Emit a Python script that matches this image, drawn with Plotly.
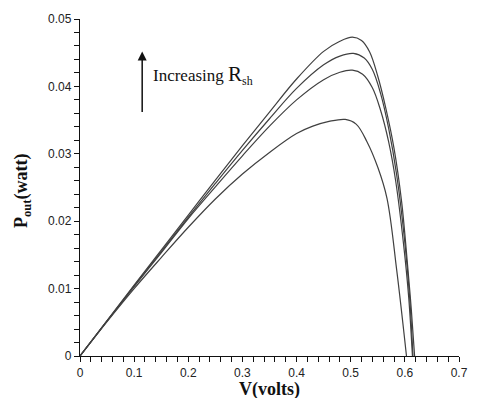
import plotly.graph_objects as go

# Curve data (V in volts, P in watts), ordered from highest to lowest R_sh
v1 = [0, 0.05, 0.10, 0.15, 0.20, 0.25, 0.30, 0.35, 0.40, 0.45, 0.48, 0.503, 0.52, 0.535, 0.55, 0.565, 0.58, 0.594, 0.605, 0.612, 0.618]
p1 = [0, 0.00525, 0.0105, 0.0157, 0.0209, 0.0261, 0.0312, 0.0362, 0.0411, 0.0452, 0.0467, 0.0473, 0.0468, 0.0451, 0.0415, 0.0367, 0.0308, 0.0229, 0.0135, 0.0068, 0]

v2 = [0, 0.05, 0.10, 0.15, 0.20, 0.25, 0.30, 0.35, 0.40, 0.45, 0.48, 0.505, 0.525, 0.54, 0.555, 0.57, 0.585, 0.60, 0.609, 0.615]
p2 = [0, 0.0052, 0.0104, 0.0155, 0.0206, 0.0256, 0.0305, 0.0352, 0.0397, 0.0432, 0.0445, 0.0449, 0.0442, 0.0425, 0.0390, 0.0338, 0.0268, 0.0168, 0.0085, 0]

v3 = [0, 0.05, 0.10, 0.15, 0.20, 0.25, 0.30, 0.35, 0.40, 0.45, 0.48, 0.503, 0.522, 0.54, 0.555, 0.57, 0.583, 0.598, 0.607, 0.614]
p3 = [0, 0.0052, 0.0103, 0.0153, 0.0204, 0.0251, 0.0297, 0.0341, 0.0380, 0.0410, 0.0421, 0.0424, 0.0418, 0.0398, 0.0365, 0.0318, 0.0260, 0.0163, 0.0088, 0]

v4 = [0, 0.05, 0.10, 0.15, 0.20, 0.25, 0.30, 0.35, 0.40, 0.43, 0.46, 0.49, 0.51, 0.53, 0.55, 0.567, 0.585, 0.603]
p4 = [0, 0.0051, 0.0100, 0.0146, 0.0191, 0.0233, 0.0270, 0.0302, 0.0330, 0.0341, 0.0348, 0.0351, 0.0344, 0.0318, 0.0280, 0.0234, 0.0127, 0]

series = [(v1, p1), (v2, p2), (v3, p3), (v4, p4)]

x_ticks = [0, 0.1, 0.2, 0.3, 0.4, 0.5, 0.6, 0.7]
x_labels = ["0", "0.1", "0.2", "0.3", "0.4", "0.5", "0.6", "0.7"]
y_ticks = [0, 0.01, 0.02, 0.03, 0.04, 0.05]
y_labels = ["0", "0.01", "0.02", "0.03", "0.04", "0.05"]

fig = go.Figure()
for v, p in series:
    fig.add_trace(go.Scatter(x=v, y=p, mode="lines",
                             line=dict(color="#404040", width=1.2, shape="spline", smoothing=1.0),
                             showlegend=False, hoverinfo="skip"))

tickfont = dict(family="Liberation Sans, Arial, sans-serif", size=12, color="#222")
fig.update_layout(
    width=480, height=398,
    margin=dict(l=80, r=13, t=15, b=42),
    paper_bgcolor="white", plot_bgcolor="white",
    xaxis=dict(range=[0, 0.7], tickvals=x_ticks, ticktext=x_labels, showgrid=False, zeroline=False,
               showline=True, linecolor="#111", linewidth=1.3, ticks="outside", ticklen=5,
               tickcolor="#111", tickwidth=1, tickfont=tickfont,
               minor=dict(dtick=0.02, ticks="outside", ticklen=5, tickcolor="#111", tickwidth=1, showgrid=False)),
    yaxis=dict(range=[0, 0.05], tickvals=y_ticks, ticktext=y_labels, showgrid=False, zeroline=False,
               showline=True, linecolor="#111", linewidth=1.3, ticks="outside", ticklen=5,
               tickcolor="#111", tickwidth=1, tickfont=tickfont,
               minor=dict(dtick=0.002, ticks="outside", ticklen=5, tickcolor="#111", tickwidth=1, showgrid=False)),
)

serif = "Liberation Serif, Times New Roman, serif"
fig.add_annotation(text="<b>V(volts)</b>", xref="paper", yref="paper", x=0.5, y=(356.5 - 390) / 341.5,
                   xanchor="center", yanchor="middle", showarrow=False,
                   font=dict(family=serif, size=18, color="#111"))
fig.add_annotation(text="<b>P<sub>out</sub>(watt)</b>", xref="paper", yref="paper", x=-0.15, y=0.49,
                   xanchor="center", yanchor="middle", textangle=-90, showarrow=False,
                   font=dict(family=serif, size=18, color="#111"))
fig.add_annotation(text="Increasing <span style=\"font-size:21px\">R</span><sub>sh</sub>",
                   xref="paper", yref="paper", x=(153 - 80) / 387, y=(356.5 - 72) / 341.5,
                   xanchor="left", yanchor="middle", showarrow=False,
                   font=dict(family=serif, size=17, color="#111"))
# vertical arrow
fig.add_annotation(x=(143.5 - 80) / 387, y=(356.5 - 48) / 341.5, ax=0, ay=62,
                   xref="paper", yref="paper", axref="pixel", ayref="pixel", text="",
                   showarrow=True, arrowhead=2, arrowsize=1.2, arrowwidth=1.5, arrowcolor="#111")

fig.write_html("out.html")
